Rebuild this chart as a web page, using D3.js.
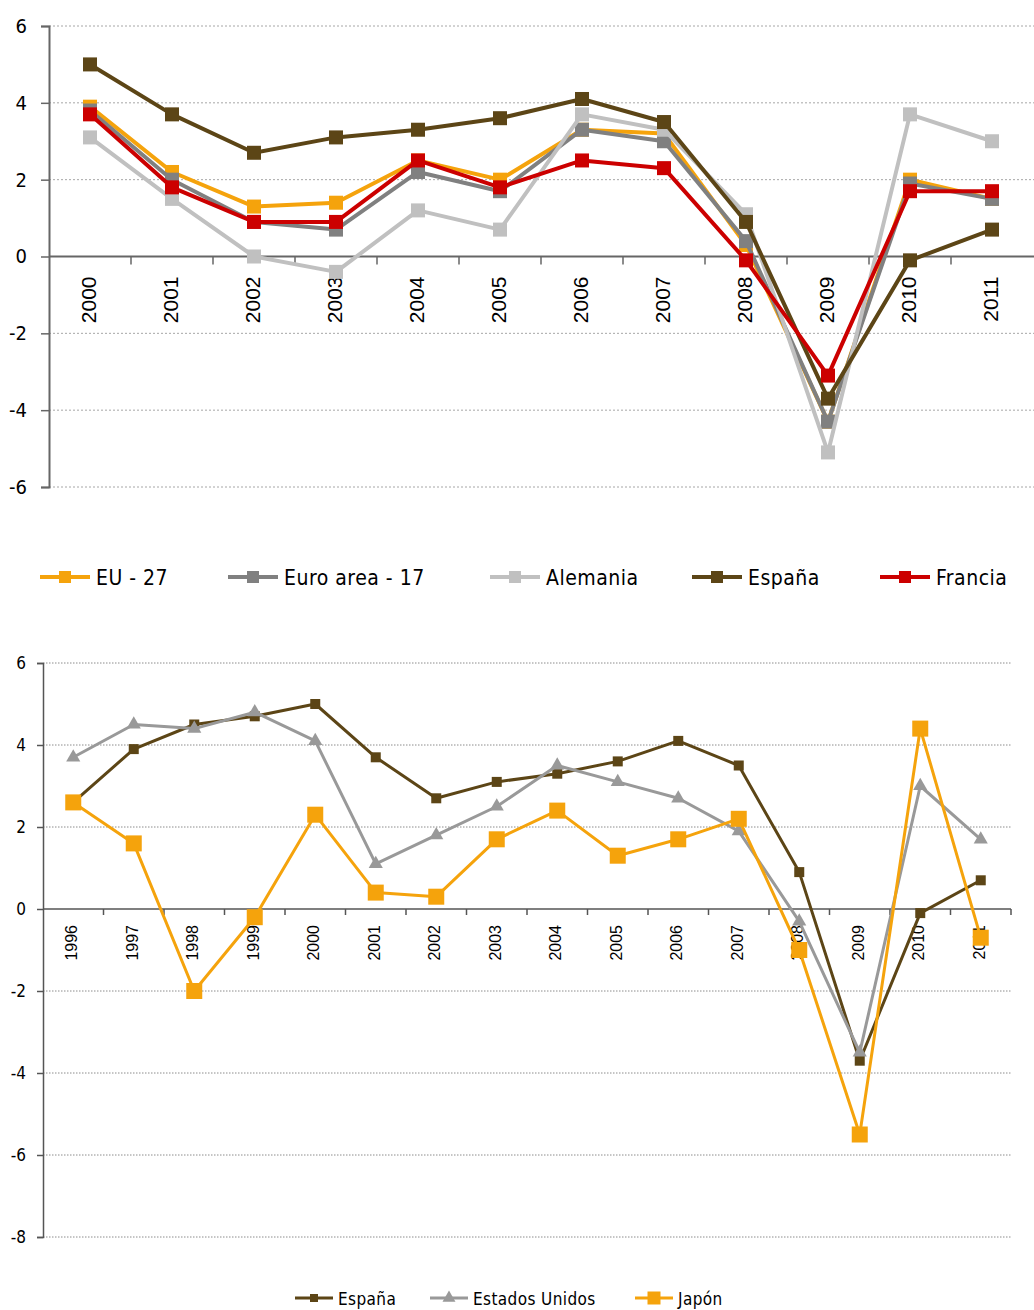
<!DOCTYPE html>
<html>
<head>
<meta charset="utf-8">
<script src="https://cdn.jsdelivr.net/npm/d3@7"></script>
<style>
	body { margin: 0; background: #fff; }
	svg { display: block; font-family: "DejaVu Sans Condensed", "DejaVu Sans", sans-serif; }
</style>
</head>
<body>
<svg id="chart" width="1034" height="1310"></svg>
<script>
// top chart data
var yearsTop = ["2000","2001","2002","2003","2004","2005","2006","2007","2008","2009","2010","2011"];
var eu27      = [3.9, 2.2, 1.3, 1.4, 2.5, 2.0, 3.3, 3.2, 0.3, -4.3, 2.0, 1.5];
var euroArea  = [3.8, 2.0, 0.9, 0.7, 2.2, 1.7, 3.3, 3.0, 0.4, -4.3, 1.9, 1.5];
var alemania  = [3.1, 1.5, 0.0, -0.4, 1.2, 0.7, 3.7, 3.3, 1.1, -5.1, 3.7, 3.0];
var espanaTop = [5.0, 3.7, 2.7, 3.1, 3.3, 3.6, 4.1, 3.5, 0.9, -3.7, -0.1, 0.7];
var francia   = [3.7, 1.8, 0.9, 0.9, 2.5, 1.8, 2.5, 2.3, -0.1, -3.1, 1.7, 1.7];
var ticksTop = [-6, -4, -2, 0, 2, 4, 6];

// bottom chart data
var yearsBottom = ["1996","1997","1998","1999","2000","2001","2002","2003","2004","2005","2006","2007","2008","2009","2010","2011"];
var espana   = [2.6, 3.9, 4.5, 4.7, 5.0, 3.7, 2.7, 3.1, 3.3, 3.6, 4.1, 3.5, 0.9, -3.7, -0.1, 0.7];
var eeuu     = [3.7, 4.5, 4.4, 4.8, 4.1, 1.1, 1.8, 2.5, 3.5, 3.1, 2.7, 1.9, -0.3, -3.5, 3.0, 1.7];
var japon    = [2.6, 1.6, -2.0, -0.2, 2.3, 0.4, 0.3, 1.7, 2.4, 1.3, 1.7, 2.2, -1.0, -5.5, 4.4, -0.7];
var ticksBottom = [-8, -6, -4, -2, 0, 2, 4, 6];

var svg = d3.select("#chart");

var seriesTop = [
	{ name: "EU - 27", values: eu27, color: "#f5a30c" },
	{ name: "Euro area - 17", values: euroArea, color: "#808080" },
	{ name: "Alemania", values: alemania, color: "#c0c0c0" },
	{ name: "España", values: espanaTop, color: "#5c4516" },
	{ name: "Francia", values: francia, color: "#cc0000" }
];

var seriesBottom = [
	{ name: "España", values: espana, color: "#5c4516", shape: "square", size: 10, legSize: 8, width: 3 },
	{ name: "Estados Unidos", values: eeuu, color: "#999999", shape: "triangle", size: 12, legSize: 11, width: 3 },
	{ name: "Japón", values: japon, color: "#f5a30c", shape: "square", size: 16, legSize: 13, width: 3 }
];

//TOP CHART
var xTop = d3.scaleBand().domain(yearsTop).range([49, 1033]);
var yTop = d3.scaleLinear().domain([-6, 6]).range([487, 26]);

var gTop = svg.append("g").attr("class", "top");

// grid
gTop.selectAll("line.grid")
	.data(ticksTop.filter(d => d !== 0))
	.enter()
	.append("line")
	.attr("x1", 49).attr("x2", 1034)
	.attr("y1", d => yTop(d)).attr("y2", d => yTop(d))
	.attr("stroke", "#a6a6a6")
	.attr("stroke-width", 1)
	.attr("stroke-dasharray", "2,2");

// y axis
var yAxisTop = d3.axisLeft(yTop).tickValues(ticksTop).tickFormat(d => String(d)).tickSize(8).tickPadding(14);
gTop.append("g")
	.attr("transform", "translate(49,0)")
	.call(yAxisTop)
	.call(g => g.select(".domain").attr("stroke", "#666").attr("stroke-width", 2))
	.call(g => g.selectAll(".tick line").attr("stroke", "#666").attr("stroke-width", 1.5))
	.call(g => g.selectAll(".tick text").attr("font-size", 20).attr("fill", "#000")
		.attr("font-family", "DejaVu Sans Condensed"));

// x axis line and ticks at band edges
gTop.append("line")
	.attr("x1", 49).attr("x2", 1034)
	.attr("y1", yTop(0)).attr("y2", yTop(0))
	.attr("stroke", "#666").attr("stroke-width", 2);

gTop.selectAll("line.xtick")
	.data(yearsTop.slice(1))
	.enter()
	.append("line")
	.attr("x1", d => xTop(d)).attr("x2", d => xTop(d))
	.attr("y1", yTop(0)).attr("y2", yTop(0) + 8)
	.attr("stroke", "#666").attr("stroke-width", 1.5);

gTop.selectAll("text.xlabel")
	.data(yearsTop)
	.enter()
	.append("text")
	.attr("transform", d => "translate(" + (xTop(d) + xTop.bandwidth() / 2 + 6) + "," + (yTop(0) + 20) + ") rotate(-90)")
	.attr("text-anchor", "end")
	.attr("font-family", "Liberation Sans, Arial, sans-serif")
	.attr("font-size", 21)
	.attr("fill", "#000")
	.text(d => d);

var lineTop = d3.line()
	.x((d, i) => xTop(yearsTop[i]) + xTop.bandwidth() / 2)
	.y(d => yTop(d));

seriesTop.forEach(s => {
	gTop.append("path")
		.attr("d", lineTop(s.values))
		.attr("fill", "none")
		.attr("stroke", s.color)
		.attr("stroke-width", 4)
		.attr("stroke-linejoin", "round");
	gTop.selectAll(null)
		.data(s.values)
		.enter()
		.append("rect")
		.attr("x", (d, i) => xTop(yearsTop[i]) + xTop.bandwidth() / 2 - 7)
		.attr("y", d => yTop(d) - 7)
		.attr("width", 14).attr("height", 14)
		.attr("fill", s.color);
});

// legend top
var legTopX = [40, 228, 490, 692, 880];
seriesTop.forEach((s, i) => {
	var lg = svg.append("g").attr("transform", "translate(" + legTopX[i] + ",577)");
	lg.append("line").attr("x1", 0).attr("x2", 50).attr("y1", 0).attr("y2", 0)
		.attr("stroke", s.color).attr("stroke-width", 4);
	lg.append("rect").attr("x", 19).attr("y", -6).attr("width", 12).attr("height", 12).attr("fill", s.color);
	lg.append("text").attr("x", 56).attr("y", 7.5)
		.attr("font-size", 21).attr("letter-spacing", 0.5)
		.attr("fill", "#000").text(s.name);
});

//BOTTOM CHART
var xBot = d3.scaleBand().domain(yearsBottom).range([43, 1011]);
var yBot = d3.scaleLinear().domain([-8, 6]).range([1237, 663]);

var gBot = svg.append("g").attr("class", "bottom");

gBot.selectAll("line.grid")
	.data(ticksBottom.filter(d => d !== 0))
	.enter()
	.append("line")
	.attr("x1", 43).attr("x2", 1011)
	.attr("y1", d => yBot(d)).attr("y2", d => yBot(d))
	.attr("stroke", "#8c8c8c")
	.attr("stroke-width", 1)
	.attr("stroke-dasharray", "1.5,1.5");

var yAxisBot = d3.axisLeft(yBot).tickValues(ticksBottom).tickFormat(d => String(d)).tickSize(6).tickPadding(11);
gBot.append("g")
	.attr("transform", "translate(43,0)")
	.call(yAxisBot)
	.call(g => g.select(".domain").attr("stroke", "#555").attr("stroke-width", 1.5))
	.call(g => g.selectAll(".tick line").attr("stroke", "#555").attr("stroke-width", 1.5))
	.call(g => g.selectAll(".tick text").attr("font-size", 17).attr("fill", "#000")
		.attr("font-family", "DejaVu Sans Condensed"));

gBot.append("line")
	.attr("x1", 43).attr("x2", 1011)
	.attr("y1", yBot(0)).attr("y2", yBot(0))
	.attr("stroke", "#555").attr("stroke-width", 1.5);

gBot.selectAll("line.xtick")
	.data(yearsBottom.slice(1).concat(["end"]))
	.enter()
	.append("line")
	.attr("x1", d => d === "end" ? 1011 : xBot(d)).attr("x2", d => d === "end" ? 1011 : xBot(d))
	.attr("y1", yBot(0)).attr("y2", yBot(0) + 6)
	.attr("stroke", "#555").attr("stroke-width", 1.5);

gBot.selectAll("text.xlabel")
	.data(yearsBottom)
	.enter()
	.append("text")
	.attr("transform", d => "translate(" + (xBot(d) + xBot.bandwidth() / 2 + 4) + "," + (yBot(0) + 16) + ") rotate(-90)")
	.attr("text-anchor", "end")
	.attr("font-family", "Liberation Sans, Arial, sans-serif")
	.attr("font-size", 16)
	.attr("fill", "#000")
	.text(d => d);

var lineBot = d3.line()
	.x((d, i) => xBot(yearsBottom[i]) + xBot.bandwidth() / 2)
	.y(d => yBot(d));

function drawMarker(sel, shape, size, color) {
	if (shape === "square") {
		sel.append("rect")
			.attr("x", -size / 2).attr("y", -size / 2)
			.attr("width", size).attr("height", size)
			.attr("fill", color);
	} else {
		sel.append("path")
			.attr("d", d3.symbol().type(d3.symbolTriangle).size(size * size * 0.6)())
			.attr("fill", color);
	}
}

seriesBottom.forEach(s => {
	gBot.append("path")
		.attr("d", lineBot(s.values))
		.attr("fill", "none")
		.attr("stroke", s.color)
		.attr("stroke-width", s.width)
		.attr("stroke-linejoin", "round");
	s.values.forEach((v, i) => {
		var m = gBot.append("g")
			.attr("transform", "translate(" + (xBot(yearsBottom[i]) + xBot.bandwidth() / 2) + "," + yBot(v) + ")");
		drawMarker(m, s.shape, s.size, s.color);
	});
});

// legend bottom
var legBotX = [295, 430, 635];
seriesBottom.forEach((s, i) => {
	var lg = svg.append("g").attr("transform", "translate(" + legBotX[i] + ",1298)");
	lg.append("line").attr("x1", 0).attr("x2", 38).attr("y1", 0).attr("y2", 0)
		.attr("stroke", s.color).attr("stroke-width", 3);
	var m = lg.append("g").attr("transform", "translate(19,0)");
	drawMarker(m, s.shape, s.legSize, s.color);
	lg.append("text").attr("x", 43).attr("y", 7)
		.attr("font-size", 17).attr("letter-spacing", 0.4)
		.attr("fill", "#000").text(s.name);
});
</script>
</body>
</html>
